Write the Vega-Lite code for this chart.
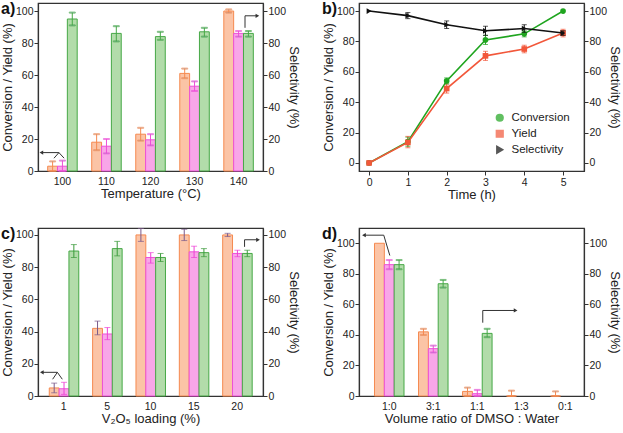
{
  "$schema": "https://vega.github.io/schema/vega-lite/v6.json",
  "padding": {"left": 0, "top": 0, "right": 0, "bottom": 0},
  "background": "white",
  "config": {
    "font": "Liberation Sans",
    "view": {"stroke": "#333", "strokeWidth": 1.2},
    "axis": {"labelFontSize": 10.5, "titleFontSize": 13, "titleFontWeight": "normal", "grid": false, "domainColor": "#333", "tickColor": "#333", "labelColor": "#222", "titleColor": "#222", "tickSize": 4, "domainWidth": 1.2, "labelPadding": 1, "titlePadding": 1},
    "title": {"fontSize": 16, "fontWeight": "bold", "anchor": "start", "frame": "group", "color": "#111"}
  },
  "resolve": {"scale": {"color": "independent", "fill": "independent", "stroke": "independent", "shape": "independent"}, "legend": {"color": "independent", "shape": "independent"}},
  "datasets": {
    "temp": [
      {"cat": "100", "series": "Conversion", "v": 3, "lo": 0, "hi": 6},
      {"cat": "100", "series": "Yield", "v": 3, "lo": 0, "hi": 6.5},
      {"cat": "100", "series": "Selectivity", "v": 95, "lo": 91, "hi": 99},
      {"cat": "110", "series": "Conversion", "v": 18, "lo": 13, "hi": 23},
      {"cat": "110", "series": "Yield", "v": 15.5, "lo": 11, "hi": 20},
      {"cat": "110", "series": "Selectivity", "v": 86, "lo": 81, "hi": 90.5},
      {"cat": "120", "series": "Conversion", "v": 23, "lo": 19, "hi": 27},
      {"cat": "120", "series": "Yield", "v": 19.5, "lo": 16, "hi": 23},
      {"cat": "120", "series": "Selectivity", "v": 84, "lo": 82, "hi": 87},
      {"cat": "130", "series": "Conversion", "v": 61, "lo": 58, "hi": 64},
      {"cat": "130", "series": "Yield", "v": 53, "lo": 50, "hi": 56},
      {"cat": "130", "series": "Selectivity", "v": 87, "lo": 84, "hi": 89.5},
      {"cat": "140", "series": "Conversion", "v": 100, "lo": 99, "hi": 101},
      {"cat": "140", "series": "Yield", "v": 86, "lo": 84, "hi": 87.5},
      {"cat": "140", "series": "Selectivity", "v": 86, "lo": 84, "hi": 87.5}
    ],
    "arrA": [
      {"seg": "h", "o": 1, "xf": 0.015, "v": 11.5},
      {"seg": "h", "o": 2, "xf": 0.093, "v": 11.5},
      {"seg": "c", "o": 1, "xf": 0.071, "v": 8},
      {"seg": "c", "o": 2, "xf": 0.093, "v": 11.5},
      {"seg": "c", "o": 3, "xf": 0.116, "v": 8},
      {"seg": "r", "o": 1, "xf": 0.92, "v": 89.5},
      {"seg": "r", "o": 2, "xf": 0.92, "v": 97},
      {"seg": "r", "o": 3, "xf": 0.975, "v": 97},
      {"head": "left", "xf": 0.015, "v": 11.5},
      {"head": "right", "xf": 0.975, "v": 97}
    ],
    "arrC": [
      {"seg": "h", "o": 1, "xf": 0.017, "v": 14.7},
      {"seg": "h", "o": 2, "xf": 0.086, "v": 14.7},
      {"seg": "c", "o": 1, "xf": 0.065, "v": 10.4},
      {"seg": "c", "o": 2, "xf": 0.086, "v": 14.7},
      {"seg": "c", "o": 3, "xf": 0.108, "v": 10.4},
      {"seg": "r", "o": 1, "xf": 0.918, "v": 92.6},
      {"seg": "r", "o": 2, "xf": 0.918, "v": 97},
      {"seg": "r", "o": 3, "xf": 0.978, "v": 97},
      {"head": "left", "xf": 0.017, "v": 14.7},
      {"head": "right", "xf": 0.978, "v": 97}
    ],
    "arrD": [
      {"seg": "h", "o": 1, "xf": 0.022, "v": 105.3},
      {"seg": "h", "o": 2, "xf": 0.11, "v": 105.3},
      {"seg": "h", "o": 3, "xf": 0.137, "v": 92},
      {"seg": "r", "o": 1, "xf": 0.55, "v": 48},
      {"seg": "r", "o": 2, "xf": 0.55, "v": 56},
      {"seg": "r", "o": 3, "xf": 0.696, "v": 56},
      {"head": "left", "xf": 0.022, "v": 105.3},
      {"head": "right", "xf": 0.696, "v": 56}
    ],
    "time": [
      {"t": 0, "series": "Conversion", "v": 0},
      {"t": 1, "series": "Conversion", "v": 14, "lo": 11, "hi": 17},
      {"t": 2, "series": "Conversion", "v": 54, "lo": 52, "hi": 56},
      {"t": 3, "series": "Conversion", "v": 81, "lo": 78, "hi": 84},
      {"t": 4, "series": "Conversion", "v": 85, "lo": 83, "hi": 87},
      {"t": 5, "series": "Conversion", "v": 100},
      {"t": 0, "series": "Yield", "v": 0},
      {"t": 1, "series": "Yield", "v": 13.5, "lo": 10, "hi": 17.5},
      {"t": 2, "series": "Yield", "v": 49, "lo": 46, "hi": 52},
      {"t": 3, "series": "Yield", "v": 70.5, "lo": 67.5, "hi": 73.5},
      {"t": 4, "series": "Yield", "v": 75, "lo": 72.5, "hi": 77.5},
      {"t": 5, "series": "Yield", "v": 85.5, "lo": 83, "hi": 88},
      {"t": 0, "series": "Selectivity", "v": 100},
      {"t": 1, "series": "Selectivity", "v": 97, "lo": 95, "hi": 99},
      {"t": 2, "series": "Selectivity", "v": 91, "lo": 88.5, "hi": 93.5},
      {"t": 3, "series": "Selectivity", "v": 87, "lo": 84, "hi": 90},
      {"t": 4, "series": "Selectivity", "v": 88.5, "lo": 86, "hi": 91},
      {"t": 5, "series": "Selectivity", "v": 85.5, "lo": 84, "hi": 87}
    ],
    "load": [
      {"cat": "1", "series": "Conversion", "v": 5, "lo": 2, "hi": 8},
      {"cat": "1", "series": "Yield", "v": 4.5, "lo": 1, "hi": 8.5},
      {"cat": "1", "series": "Selectivity", "v": 90, "lo": 86, "hi": 94},
      {"cat": "5", "series": "Conversion", "v": 42, "lo": 38, "hi": 46.5},
      {"cat": "5", "series": "Yield", "v": 38.5, "lo": 35, "hi": 42.5},
      {"cat": "5", "series": "Selectivity", "v": 91.5, "lo": 87, "hi": 96},
      {"cat": "10", "series": "Conversion", "v": 100, "lo": 96, "hi": 104},
      {"cat": "10", "series": "Yield", "v": 86, "lo": 82.5, "hi": 89},
      {"cat": "10", "series": "Selectivity", "v": 86, "lo": 83.5, "hi": 88.5},
      {"cat": "15", "series": "Conversion", "v": 100, "lo": 96.5, "hi": 103.5},
      {"cat": "15", "series": "Yield", "v": 89.5, "lo": 86, "hi": 93},
      {"cat": "15", "series": "Selectivity", "v": 89, "lo": 86.5, "hi": 91.5},
      {"cat": "20", "series": "Conversion", "v": 100, "lo": 99, "hi": 101},
      {"cat": "20", "series": "Yield", "v": 88.5, "lo": 86.5, "hi": 90.5},
      {"cat": "20", "series": "Selectivity", "v": 88.5, "lo": 86.5, "hi": 90.5}
    ],
    "ratio": [
      {"cat": "1:0", "series": "Conversion", "v": 100},
      {"cat": "1:0", "series": "Yield", "v": 86, "lo": 83, "hi": 89},
      {"cat": "1:0", "series": "Selectivity", "v": 86, "lo": 83, "hi": 89},
      {"cat": "3:1", "series": "Conversion", "v": 42, "lo": 40, "hi": 44},
      {"cat": "3:1", "series": "Yield", "v": 31, "lo": 28.5, "hi": 33},
      {"cat": "3:1", "series": "Selectivity", "v": 73.5, "lo": 71, "hi": 76},
      {"cat": "1:1", "series": "Conversion", "v": 3, "lo": 0, "hi": 5.5},
      {"cat": "1:1", "series": "Yield", "v": 1.5, "lo": 0, "hi": 4},
      {"cat": "1:1", "series": "Selectivity", "v": 41, "lo": 38.5, "hi": 44},
      {"cat": "1:3", "series": "Conversion", "v": 0, "lo": 0, "hi": 3.5},
      {"cat": "0:1", "series": "Conversion", "v": 0, "lo": 0, "hi": 3}
    ]
  },
  "columns": 2,
  "spacing": {"row": 22, "column": 20},
  "concat": [
    {
      "width": 225, "height": 168,
      "title": {"text": "a)", "offset": -14, "dx": -37},
      "layer": [
        {
          "data": {"name": "temp"},
          "encoding": {
            "x": {"field": "cat", "type": "ordinal", "sort": null, "scale": {"paddingInner": 0.33, "paddingOuter": 0.22}, "axis": {"title": "Temperature (°C)", "labelAngle": 0, "ticks": false, "labelPadding": 5}},
            "xOffset": {"field": "series", "type": "nominal", "scale": {"domain": ["Conversion", "Yield", "Selectivity"]}}
          },
          "layer": [
            {
              "transform": [{"filter": "datum.series !== 'Selectivity'"}],
              "layer": [
                {"mark": {"type": "bar", "strokeWidth": 1},
                 "encoding": {
                   "y": {"field": "v", "type": "quantitative", "scale": {"domain": [0, 105], "nice": false}, "axis": {"title": "Conversion / Yield (%)", "values": [0, 20, 40, 60, 80, 100]}},
                   "fill": {"field": "series", "type": "nominal", "scale": {"domain": ["Conversion", "Yield", "Selectivity"], "range": ["#fbc4a6", "#f8a6e8", "#b2dcaa"]}, "legend": null},
                   "stroke": {"field": "series", "type": "nominal", "scale": {"domain": ["Conversion", "Yield", "Selectivity"], "range": ["#f58a50", "#ee50d8", "#46a846"]}, "legend": null}}},
                {"mark": {"type": "rule", "strokeWidth": 1},
                 "encoding": {"y": {"field": "lo", "type": "quantitative", "axis": {"title": "Conversion / Yield (%)", "values": [0, 20, 40, 60, 80, 100]}}, "y2": {"field": "hi"}, "stroke": {"field": "series", "type": "nominal", "legend": null}}},
                {"mark": {"type": "tick", "orient": "horizontal", "size": 6, "thickness": 1},
                 "encoding": {"y": {"field": "lo", "type": "quantitative", "axis": {"title": "Conversion / Yield (%)", "values": [0, 20, 40, 60, 80, 100]}}, "stroke": {"field": "series", "type": "nominal", "legend": null}}},
                {"mark": {"type": "tick", "orient": "horizontal", "size": 6, "thickness": 1},
                 "encoding": {"y": {"field": "hi", "type": "quantitative", "axis": {"title": "Conversion / Yield (%)", "values": [0, 20, 40, 60, 80, 100]}}, "stroke": {"field": "series", "type": "nominal", "legend": null}}}
              ]
            },
            {
              "transform": [{"filter": "datum.series === 'Selectivity'"}],
              "layer": [
                {"mark": {"type": "bar", "strokeWidth": 1},
                 "encoding": {
                   "y": {"field": "v", "type": "quantitative", "scale": {"domain": [0, 105], "nice": false}, "axis": {"title": "Selectivity (%)", "orient": "right", "values": [0, 20, 40, 60, 80, 100]}},
                   "fill": {"field": "series", "type": "nominal", "legend": null},
                   "stroke": {"field": "series", "type": "nominal", "legend": null}}},
                {"mark": {"type": "rule", "strokeWidth": 1},
                 "encoding": {"y": {"field": "lo", "type": "quantitative", "axis": {"title": "Selectivity (%)", "orient": "right", "values": [0, 20, 40, 60, 80, 100]}}, "y2": {"field": "hi"}, "stroke": {"field": "series", "type": "nominal", "legend": null}}},
                {"mark": {"type": "tick", "orient": "horizontal", "size": 6, "thickness": 1},
                 "encoding": {"y": {"field": "lo", "type": "quantitative", "axis": {"title": "Selectivity (%)", "orient": "right", "values": [0, 20, 40, 60, 80, 100]}}, "stroke": {"field": "series", "type": "nominal", "legend": null}}},
                {"mark": {"type": "tick", "orient": "horizontal", "size": 6, "thickness": 1},
                 "encoding": {"y": {"field": "hi", "type": "quantitative", "axis": {"title": "Selectivity (%)", "orient": "right", "values": [0, 20, 40, 60, 80, 100]}}, "stroke": {"field": "series", "type": "nominal", "legend": null}}}
              ]
            }
          ],
          "resolve": {"scale": {"y": "independent"}}
        },
        {
          "data": {"name": "arrA"},
          "encoding": {
            "x": {"field": "xf", "type": "quantitative", "scale": {"domain": [0, 1]}, "axis": null},
            "y": {"field": "v", "type": "quantitative", "scale": {"domain": [0, 105], "nice": false}, "axis": null}
          },
          "layer": [
            {"transform": [{"filter": "datum.seg"}], "mark": {"type": "line", "color": "#333", "strokeWidth": 1}, "encoding": {"detail": {"field": "seg"}, "order": {"field": "o"}}},
            {"transform": [{"filter": "datum.head === 'left'"}], "mark": {"type": "point", "shape": "triangle-left", "filled": true, "color": "#333", "size": 18, "opacity": 1}},
            {"transform": [{"filter": "datum.head === 'right'"}], "mark": {"type": "point", "shape": "triangle-right", "filled": true, "color": "#333", "size": 18, "opacity": 1}}
          ]
        }
      ],
      "resolve": {"scale": {"x": "independent", "y": "independent"}}
    },
    {
      "width": 225, "height": 168,
      "title": {"text": "b)", "offset": -14, "dx": -37},
      "data": {"name": "time"},
      "encoding": {
        "x": {"field": "t", "type": "quantitative", "scale": {"domain": [-0.26, 5.54], "nice": false, "zero": false}, "axis": {"title": "Time (h)", "values": [0, 1, 2, 3, 4, 5], "format": "d", "labelPadding": 2}}
      },
      "layer": [
        {
          "transform": [{"filter": "datum.series !== 'Selectivity'"}],
          "layer": [
            {"mark": {"type": "rule", "strokeWidth": 1},
             "encoding": {"y": {"field": "lo", "type": "quantitative", "axis": {"title": "Conversion / Yield (%)", "values": [0, 20, 40, 60, 80, 100]}}, "y2": {"field": "hi"}, "color": {"field": "series", "type": "nominal"}}},
            {"mark": {"type": "tick", "orient": "horizontal", "size": 5, "thickness": 1},
             "encoding": {"y": {"field": "lo", "type": "quantitative", "axis": {"title": "Conversion / Yield (%)", "values": [0, 20, 40, 60, 80, 100]}}, "color": {"field": "series", "type": "nominal"}}},
            {"mark": {"type": "tick", "orient": "horizontal", "size": 5, "thickness": 1},
             "encoding": {"y": {"field": "hi", "type": "quantitative", "axis": {"title": "Conversion / Yield (%)", "values": [0, 20, 40, 60, 80, 100]}}, "color": {"field": "series", "type": "nominal"}}},
            {"mark": {"type": "line", "strokeWidth": 1.6},
             "encoding": {
               "y": {"field": "v", "type": "quantitative", "scale": {"domain": [-5.3, 105.3], "nice": false, "zero": false}, "axis": {"title": "Conversion / Yield (%)", "values": [0, 20, 40, 60, 80, 100]}},
               "color": {"field": "series", "type": "nominal", "scale": {"domain": ["Conversion", "Yield", "Selectivity"], "range": ["#1fa51f", "#f2573a", "#111111"]}}}},
            {"mark": {"type": "point", "filled": true, "size": 32, "opacity": 1},
             "encoding": {
               "y": {"field": "v", "type": "quantitative", "axis": {"title": "Conversion / Yield (%)", "values": [0, 20, 40, 60, 80, 100]}},
               "color": {"field": "series", "type": "nominal", "legend": {"title": null, "orient": "bottom-right", "offset": 14, "labelFontSize": 11.5, "symbolSize": 45, "rowPadding": 2, "labelOffset": 6, "labelColor": "#222"}},
               "shape": {"field": "series", "type": "nominal", "scale": {"domain": ["Conversion", "Yield", "Selectivity"], "range": ["circle", "square", "triangle-right"]}, "legend": {"title": null, "orient": "bottom-right", "offset": 14, "labelFontSize": 11.5, "symbolSize": 45, "rowPadding": 2, "labelOffset": 6, "labelColor": "#222"}}}}
          ]
        },
        {
          "transform": [{"filter": "datum.series === 'Selectivity'"}],
          "layer": [
            {"mark": {"type": "rule", "strokeWidth": 1},
             "encoding": {"y": {"field": "lo", "type": "quantitative", "axis": {"title": "Selectivity (%)", "orient": "right", "values": [0, 20, 40, 60, 80, 100]}}, "y2": {"field": "hi"}, "color": {"field": "series", "type": "nominal"}}},
            {"mark": {"type": "tick", "orient": "horizontal", "size": 5, "thickness": 1},
             "encoding": {"y": {"field": "lo", "type": "quantitative", "axis": {"title": "Selectivity (%)", "orient": "right", "values": [0, 20, 40, 60, 80, 100]}}, "color": {"field": "series", "type": "nominal"}}},
            {"mark": {"type": "tick", "orient": "horizontal", "size": 5, "thickness": 1},
             "encoding": {"y": {"field": "hi", "type": "quantitative", "axis": {"title": "Selectivity (%)", "orient": "right", "values": [0, 20, 40, 60, 80, 100]}}, "color": {"field": "series", "type": "nominal"}}},
            {"mark": {"type": "line", "strokeWidth": 1.6},
             "encoding": {
               "y": {"field": "v", "type": "quantitative", "scale": {"domain": [-5.3, 105.3], "nice": false, "zero": false}, "axis": {"title": "Selectivity (%)", "orient": "right", "values": [0, 20, 40, 60, 80, 100]}},
               "color": {"field": "series", "type": "nominal"}}},
            {"mark": {"type": "point", "filled": true, "size": 32, "opacity": 1},
             "encoding": {
               "y": {"field": "v", "type": "quantitative", "axis": {"title": "Selectivity (%)", "orient": "right", "values": [0, 20, 40, 60, 80, 100]}},
               "color": {"field": "series", "type": "nominal"},
               "shape": {"field": "series", "type": "nominal"}}}
          ]
        }
      ],
      "resolve": {"scale": {"y": "independent"}}
    },
    {
      "width": 225, "height": 168,
      "title": {"text": "c)", "offset": -14, "dx": -37},
      "layer": [
        {
          "data": {"name": "load"},
          "encoding": {
            "x": {"field": "cat", "type": "ordinal", "sort": null, "scale": {"paddingInner": 0.33, "paddingOuter": 0.26}, "axis": {"title": "V₂O₅ loading (%)", "labelAngle": 0, "ticks": false, "labelPadding": 5}},
            "xOffset": {"field": "series", "type": "nominal", "scale": {"domain": ["Conversion", "Yield", "Selectivity"]}}
          },
          "layer": [
            {
              "transform": [{"filter": "datum.series !== 'Selectivity'"}],
              "layer": [
                {"mark": {"type": "bar", "strokeWidth": 1},
                 "encoding": {
                   "y": {"field": "v", "type": "quantitative", "scale": {"domain": [0, 104.3], "nice": false}, "axis": {"title": "Conversion / Yield (%)", "values": [0, 20, 40, 60, 80, 100]}},
                   "fill": {"field": "series", "type": "nominal", "scale": {"domain": ["Conversion", "Yield", "Selectivity"], "range": ["#fbc4a6", "#f8a6e8", "#b2dcaa"]}, "legend": null},
                   "stroke": {"field": "series", "type": "nominal", "scale": {"domain": ["Conversion", "Yield", "Selectivity"], "range": ["#f58a50", "#ee50d8", "#46a846"]}, "legend": null}}},
                {"mark": {"type": "rule", "strokeWidth": 1},
                 "encoding": {"y": {"field": "lo", "type": "quantitative", "axis": {"title": "Conversion / Yield (%)", "values": [0, 20, 40, 60, 80, 100]}}, "y2": {"field": "hi"}, "color": {"field": "series", "type": "nominal", "scale": {"domain": ["Conversion", "Yield", "Selectivity"], "range": ["#7a5a8a", "#ee40d6", "#3a9a3a"]}, "legend": null}}},
                {"mark": {"type": "tick", "orient": "horizontal", "size": 6, "thickness": 1},
                 "encoding": {"y": {"field": "lo", "type": "quantitative", "axis": {"title": "Conversion / Yield (%)", "values": [0, 20, 40, 60, 80, 100]}}, "color": {"field": "series", "type": "nominal", "legend": null}}},
                {"mark": {"type": "tick", "orient": "horizontal", "size": 6, "thickness": 1},
                 "encoding": {"y": {"field": "hi", "type": "quantitative", "axis": {"title": "Conversion / Yield (%)", "values": [0, 20, 40, 60, 80, 100]}}, "color": {"field": "series", "type": "nominal", "legend": null}}}
              ]
            },
            {
              "transform": [{"filter": "datum.series === 'Selectivity'"}],
              "layer": [
                {"mark": {"type": "bar", "strokeWidth": 1},
                 "encoding": {
                   "y": {"field": "v", "type": "quantitative", "scale": {"domain": [0, 104.3], "nice": false}, "axis": {"title": "Selectivity (%)", "orient": "right", "values": [0, 20, 40, 60, 80, 100]}},
                   "fill": {"field": "series", "type": "nominal", "legend": null},
                   "stroke": {"field": "series", "type": "nominal", "legend": null}}},
                {"mark": {"type": "rule", "strokeWidth": 1},
                 "encoding": {"y": {"field": "lo", "type": "quantitative", "axis": {"title": "Selectivity (%)", "orient": "right", "values": [0, 20, 40, 60, 80, 100]}}, "y2": {"field": "hi"}, "color": {"field": "series", "type": "nominal", "legend": null}}},
                {"mark": {"type": "tick", "orient": "horizontal", "size": 6, "thickness": 1},
                 "encoding": {"y": {"field": "lo", "type": "quantitative", "axis": {"title": "Selectivity (%)", "orient": "right", "values": [0, 20, 40, 60, 80, 100]}}, "color": {"field": "series", "type": "nominal", "legend": null}}},
                {"mark": {"type": "tick", "orient": "horizontal", "size": 6, "thickness": 1},
                 "encoding": {"y": {"field": "hi", "type": "quantitative", "axis": {"title": "Selectivity (%)", "orient": "right", "values": [0, 20, 40, 60, 80, 100]}}, "color": {"field": "series", "type": "nominal", "legend": null}}}
              ]
            }
          ],
          "resolve": {"scale": {"y": "independent"}}
        },
        {
          "data": {"name": "arrC"},
          "encoding": {
            "x": {"field": "xf", "type": "quantitative", "scale": {"domain": [0, 1]}, "axis": null},
            "y": {"field": "v", "type": "quantitative", "scale": {"domain": [0, 104.3], "nice": false}, "axis": null}
          },
          "layer": [
            {"transform": [{"filter": "datum.seg"}], "mark": {"type": "line", "color": "#333", "strokeWidth": 1}, "encoding": {"detail": {"field": "seg"}, "order": {"field": "o"}}},
            {"transform": [{"filter": "datum.head === 'left'"}], "mark": {"type": "point", "shape": "triangle-left", "filled": true, "color": "#333", "size": 18, "opacity": 1}},
            {"transform": [{"filter": "datum.head === 'right'"}], "mark": {"type": "point", "shape": "triangle-right", "filled": true, "color": "#333", "size": 18, "opacity": 1}}
          ]
        }
      ],
      "resolve": {"scale": {"x": "independent", "y": "independent"}}
    },
    {
      "width": 225, "height": 168,
      "title": {"text": "d)", "offset": -14, "dx": -37},
      "layer": [
        {
          "data": {"name": "ratio"},
          "encoding": {
            "x": {"field": "cat", "type": "ordinal", "sort": null, "scale": {"domain": ["1:0", "3:1", "1:1", "1:3", "0:1"], "paddingInner": 0.33, "paddingOuter": 0.22, "align": 0.8}, "axis": {"title": "Volume ratio of DMSO : Water", "labelAngle": 0, "ticks": false, "labelPadding": 5}},
            "xOffset": {"field": "series", "type": "nominal", "scale": {"domain": ["Conversion", "Yield", "Selectivity"]}}
          },
          "layer": [
            {
              "transform": [{"filter": "datum.series !== 'Selectivity'"}],
              "layer": [
                {"mark": {"type": "bar", "strokeWidth": 1},
                 "encoding": {
                   "y": {"field": "v", "type": "quantitative", "scale": {"domain": [0, 110], "nice": false}, "axis": {"title": "Conversion / Yield (%)", "values": [0, 20, 40, 60, 80, 100]}},
                   "fill": {"field": "series", "type": "nominal", "scale": {"domain": ["Conversion", "Yield", "Selectivity"], "range": ["#fbc4a6", "#f8a6e8", "#b2dcaa"]}, "legend": null},
                   "stroke": {"field": "series", "type": "nominal", "scale": {"domain": ["Conversion", "Yield", "Selectivity"], "range": ["#f58a50", "#ee50d8", "#46a846"]}, "legend": null}}},
                {"mark": {"type": "rule", "strokeWidth": 1},
                 "encoding": {"y": {"field": "lo", "type": "quantitative", "axis": {"title": "Conversion / Yield (%)", "values": [0, 20, 40, 60, 80, 100]}}, "y2": {"field": "hi"}, "stroke": {"field": "series", "type": "nominal", "legend": null}}},
                {"mark": {"type": "tick", "orient": "horizontal", "size": 6, "thickness": 1},
                 "encoding": {"y": {"field": "lo", "type": "quantitative", "axis": {"title": "Conversion / Yield (%)", "values": [0, 20, 40, 60, 80, 100]}}, "stroke": {"field": "series", "type": "nominal", "legend": null}}},
                {"mark": {"type": "tick", "orient": "horizontal", "size": 6, "thickness": 1},
                 "encoding": {"y": {"field": "hi", "type": "quantitative", "axis": {"title": "Conversion / Yield (%)", "values": [0, 20, 40, 60, 80, 100]}}, "stroke": {"field": "series", "type": "nominal", "legend": null}}}
              ]
            },
            {
              "transform": [{"filter": "datum.series === 'Selectivity'"}],
              "layer": [
                {"mark": {"type": "bar", "strokeWidth": 1},
                 "encoding": {
                   "y": {"field": "v", "type": "quantitative", "scale": {"domain": [0, 110], "nice": false}, "axis": {"title": "Selectivity (%)", "orient": "right", "values": [0, 20, 40, 60, 80, 100]}},
                   "fill": {"field": "series", "type": "nominal", "legend": null},
                   "stroke": {"field": "series", "type": "nominal", "legend": null}}},
                {"mark": {"type": "rule", "strokeWidth": 1},
                 "encoding": {"y": {"field": "lo", "type": "quantitative", "axis": {"title": "Selectivity (%)", "orient": "right", "values": [0, 20, 40, 60, 80, 100]}}, "y2": {"field": "hi"}, "stroke": {"field": "series", "type": "nominal", "legend": null}}},
                {"mark": {"type": "tick", "orient": "horizontal", "size": 6, "thickness": 1},
                 "encoding": {"y": {"field": "lo", "type": "quantitative", "axis": {"title": "Selectivity (%)", "orient": "right", "values": [0, 20, 40, 60, 80, 100]}}, "stroke": {"field": "series", "type": "nominal", "legend": null}}},
                {"mark": {"type": "tick", "orient": "horizontal", "size": 6, "thickness": 1},
                 "encoding": {"y": {"field": "hi", "type": "quantitative", "axis": {"title": "Selectivity (%)", "orient": "right", "values": [0, 20, 40, 60, 80, 100]}}, "stroke": {"field": "series", "type": "nominal", "legend": null}}}
              ]
            }
          ],
          "resolve": {"scale": {"y": "independent"}}
        },
        {
          "data": {"name": "arrD"},
          "encoding": {
            "x": {"field": "xf", "type": "quantitative", "scale": {"domain": [0, 1]}, "axis": null},
            "y": {"field": "v", "type": "quantitative", "scale": {"domain": [0, 110], "nice": false}, "axis": null}
          },
          "layer": [
            {"transform": [{"filter": "datum.seg"}], "mark": {"type": "line", "color": "#333", "strokeWidth": 1}, "encoding": {"detail": {"field": "seg"}, "order": {"field": "o"}}},
            {"transform": [{"filter": "datum.head === 'left'"}], "mark": {"type": "point", "shape": "triangle-left", "filled": true, "color": "#333", "size": 18, "opacity": 1}},
            {"transform": [{"filter": "datum.head === 'right'"}], "mark": {"type": "point", "shape": "triangle-right", "filled": true, "color": "#333", "size": 18, "opacity": 1}}
          ]
        }
      ],
      "resolve": {"scale": {"x": "independent", "y": "independent"}}
    }
  ]
}
